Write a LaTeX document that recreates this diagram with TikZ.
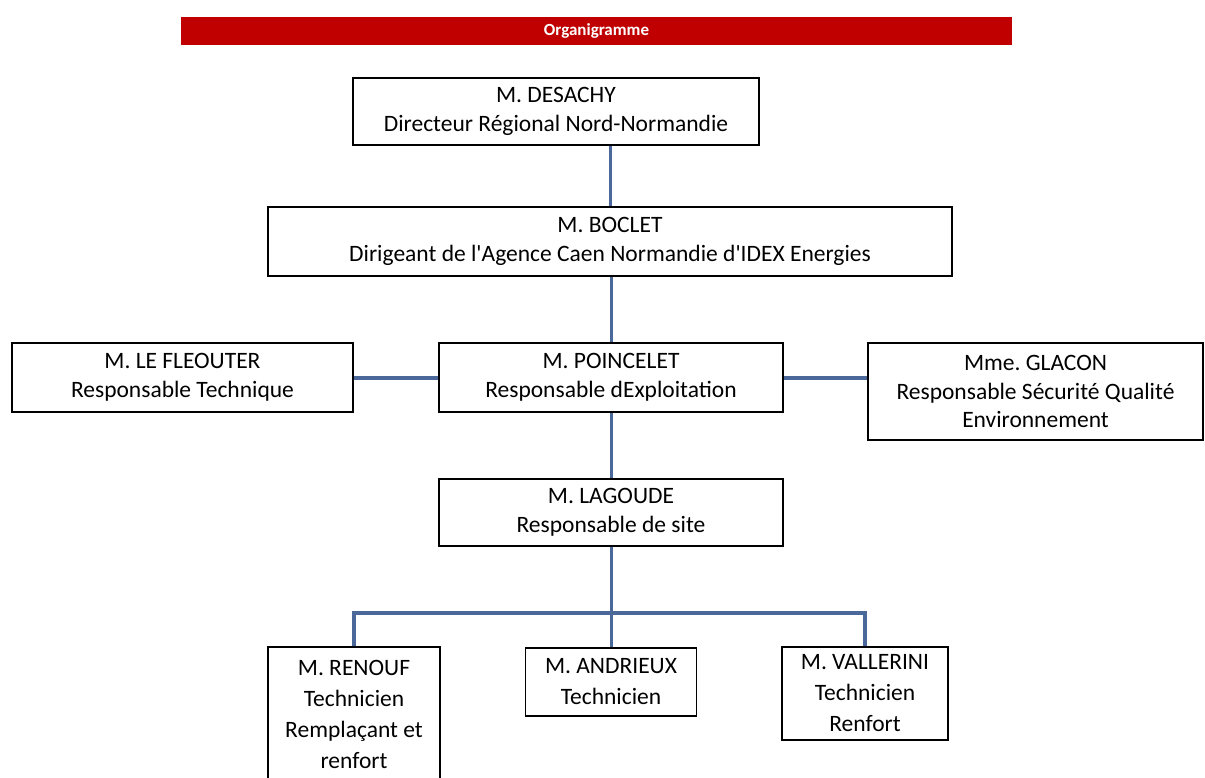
\documentclass[tikz,border=0pt]{standalone}
\usepackage{fontspec}
\setmainfont{Carlito}
\frenchspacing
\definecolor{titlered}{HTML}{C00000}
\definecolor{linkblue}{HTML}{4A6899}
\tikzset{
  person/.style={draw, line width=0.6pt, align=center, inner sep=0pt,
    font=\fontsize{11.75}{14.25}\selectfont},
  tech/.style={person, font=\fontsize{11.75}{15.5}\selectfont},
  link/.style={draw=linkblue, line width=1.5pt},
}
\begin{document}
\begin{tikzpicture}[x=0.5pt,y=-0.5pt]
  \useasboundingbox (0,0) rectangle (1205,777);
  \clip (0,0) rectangle (1205,777);
  % banner
  \node[fill=titlered, minimum width=415.5pt, minimum height=14pt, inner sep=0pt,
    text=white, font=\fontsize{8.5}{9}\selectfont\bfseries] (title) at (596.5,31) {Organigramme};
  % staff
  \node[person, minimum width=203pt, minimum height=33.5pt] (desachy) at (556,111.5)
    {M. DESACHY\\Directeur Régional Nord-Normandie};
  \node[person, minimum width=342pt, minimum height=34.5pt] (boclet) at (610,241.5)
    {M. BOCLET\\Dirigeant de l\textquotesingle Agence Caen Normandie d\textquotesingle IDEX Energies};
  \node[person, minimum width=172pt, minimum height=34.5pt] (poincelet) at (611,377.5)
    {M. POINCELET\\Responsable dExploitation};
  \node[person, minimum width=170.5pt, minimum height=34.5pt] (fleouter) at (182.5,377.5)
    {M. LE FLEOUTER\\Responsable Technique};
  \node[person, minimum width=167.5pt, minimum height=48.5pt] (glacon) at (1035.5,391.5)
    {Mme. GLACON\\Responsable Sécurité Qualité\\Environnement};
  \node[person, minimum width=172pt, minimum height=33.5pt] (lagoude) at (611,512.5)
    {M. LAGOUDE\\Responsable de site};
  % technicians
  \node[tech, minimum width=86pt, minimum height=67.5pt] (renouf) at (354,714.5)
    {M. RENOUF\\Technicien\\Remplaçant et\\renfort};
  \node[tech, minimum width=85.5pt, minimum height=34pt] (andrieux) at (611,682)
    {M. ANDRIEUX\\Technicien};
  \node[tech, minimum width=83pt, minimum height=46.5pt] (vallerini) at (865,693.5)
    {M. VALLERINI\\Technicien\\Renfort};
  \coordinate (split) at (611,613);
  % links
  \draw[link] (boclet.north |- desachy.south) -- (boclet.north);
  \draw[link] (boclet.south -| poincelet.north) -- (poincelet.north);
  \draw[link, line width=2pt] (fleouter.east) -- (poincelet.west);
  \draw[link, line width=2pt] (poincelet.east) -- (poincelet.east -| glacon.west);
  \draw[link] (poincelet.south) -- (lagoude.north);
  \draw[link] (lagoude.south) -- (andrieux.north);
  \draw[link, line width=2.4pt] (renouf.north) |- (split) -| (vallerini.north);
\end{tikzpicture}
\end{document}
